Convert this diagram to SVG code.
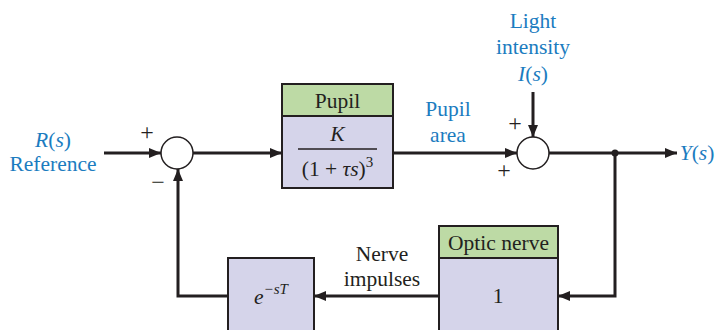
<svg xmlns="http://www.w3.org/2000/svg" width="715" height="330" viewBox="0 0 715 330">
<defs>
<marker id="ah" viewBox="0 0 12 10" refX="12" refY="5" markerWidth="12" markerHeight="10" markerUnits="userSpaceOnUse" orient="auto">
<path d="M0,0 L12,5 L0,10 Z" fill="#231f20"/>
</marker>
<style>
.t{font-family:"Liberation Serif","Times New Roman",serif;font-size:21.5px;fill:#231f20;text-anchor:middle}
.b{fill:#1b7cc0}
.i{font-style:italic}
.ln{fill:none;stroke:#231f20;stroke-width:3}
.box{stroke:#231f20;stroke-width:2}
.hd{fill:#bddaa5}
.bd{fill:#d5d4ea}
.sum{fill:#fff;stroke:#231f20;stroke-width:1.5}
.sg{font-family:"Liberation Serif",serif;font-size:24px;fill:#231f20;text-anchor:middle}
</style>
</defs>
<rect width="715" height="330" fill="#fff"/>
<g id="connectors">
<path class="ln" d="M104,153 H161" marker-end="url(#ah)"/>
<path class="ln" d="M193,153 H282" marker-end="url(#ah)"/>
<path class="ln" d="M393,153 H517" marker-end="url(#ah)"/>
<path class="ln" d="M533,92 V137" marker-end="url(#ah)"/>
<path class="ln" d="M549,153 H677" marker-end="url(#ah)"/>
<path class="ln" d="M615,153 V296 H558" marker-end="url(#ah)"/>
<path class="ln" d="M439,296 H314" marker-end="url(#ah)"/>
<path class="ln" d="M228,296 H178 V169" marker-end="url(#ah)"/>
<circle cx="615" cy="153" r="3.5" fill="#231f20"/>
</g>
<g id="input">
<text class="t b" x="53" y="147"><tspan class="i">R</tspan>(<tspan class="i">s</tspan>)</text>
<text class="t b" x="53" y="171">Reference</text>
</g>
<g id="sum1">
<circle class="sum" cx="177" cy="153" r="16"/>
<text class="sg" x="147" y="140">+</text>
<text class="sg" x="158" y="190">−</text>
</g>
<g id="pupil">
<rect class="box hd" x="282" y="84" width="111" height="32"/>
<rect class="box bd" x="282" y="116" width="111" height="72"/>
<text class="t" x="337.5" y="108">Pupil</text>
<text class="t i" x="337.5" y="141">K</text>
<line x1="298" y1="149" x2="377" y2="149" stroke="#231f20" stroke-width="1.5"/>
<text class="t" x="337.5" y="176">(1 + <tspan class="i">τs</tspan>)<tspan font-size="15" dy="-9">3</tspan></text>
</g>
<g id="pupil-area">
<text class="t b" x="448" y="116">Pupil</text>
<text class="t b" x="448" y="142">area</text>
</g>
<g id="light">
<text class="t b" x="533" y="28">Light</text>
<text class="t b" x="533" y="54">intensity</text>
<text class="t b" x="533" y="81"><tspan class="i">I</tspan>(<tspan class="i">s</tspan>)</text>
</g>
<g id="sum2">
<circle class="sum" cx="533" cy="153" r="16"/>
<text class="sg" x="515" y="131">+</text>
<text class="sg" x="504" y="178">+</text>
</g>
<g id="output">
<text class="t b" x="697" y="160"><tspan class="i">Y</tspan>(<tspan class="i">s</tspan>)</text>
</g>
<g id="optic-nerve">
<rect class="box hd" x="439" y="226" width="119" height="32"/>
<rect class="box bd" x="439" y="258" width="119" height="80"/>
<text class="t" x="498.5" y="250">Optic nerve</text>
<text class="t" x="498" y="303">1</text>
</g>
<g id="nerve-label">
<text class="t" x="382" y="261">Nerve</text>
<text class="t" x="382" y="286">impulses</text>
</g>
<g id="delay">
<rect class="box bd" x="228" y="258" width="86" height="80"/>
<text class="t" x="271" y="304"><tspan class="i">e</tspan><tspan font-size="15" dy="-10" class="i">−sT</tspan></text>
</g>
</svg>
